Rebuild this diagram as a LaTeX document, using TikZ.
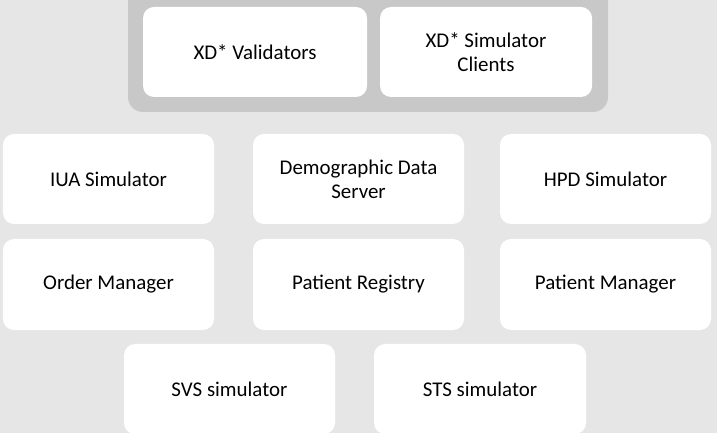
\documentclass[tikz,border=0pt]{standalone}
\usepackage{fontspec}
\setmainfont{Carlito}
\definecolor{bggray}{HTML}{E6E6E6}
\definecolor{grpgray}{HTML}{C8C8C8}
\begin{document}
\begin{tikzpicture}[x=1bp,y=-1bp,
  card/.style={rectangle, fill=white, rounded corners=11bp, minimum width=211bp, minimum height=90bp, inner sep=0pt, align=center, font=\fontsize{21}{24}\selectfont, text=black}]
\useasboundingbox (0,0) rectangle (717,433);
\clip (0,0) rectangle (717,433);
\fill[bggray] (0,0) rectangle (717,433);
\fill[grpgray, rounded corners=15bp] (128,-30) rectangle (608,112);
\node[card, minimum width=224bp] (val) at (255,52) {XD* Validators};
\node[card, minimum width=212bp] (cli) at (486,52) {XD* Simulator\\Clients};
\node[card] (iua) at (108.5,179) {IUA Simulator};
\node[card] (dem) at (358.5,179) {Demographic Data\\Server};
\node[card] (hpd) at (605.5,179) {HPD Simulator};
\node[card, minimum height=91bp] (ord) at (108.5,284.5) {Order Manager};
\node[card, minimum height=91bp] (reg) at (358.5,284.5) {Patient Registry};
\node[card, minimum height=91bp] (pm) at (605.5,284.5) {Patient Manager};
\node[card] (svs) at (229.5,389) {SVS simulator};
\node[card, minimum width=212bp] (sts) at (480,389) {STS simulator};
\end{tikzpicture}
\end{document}
